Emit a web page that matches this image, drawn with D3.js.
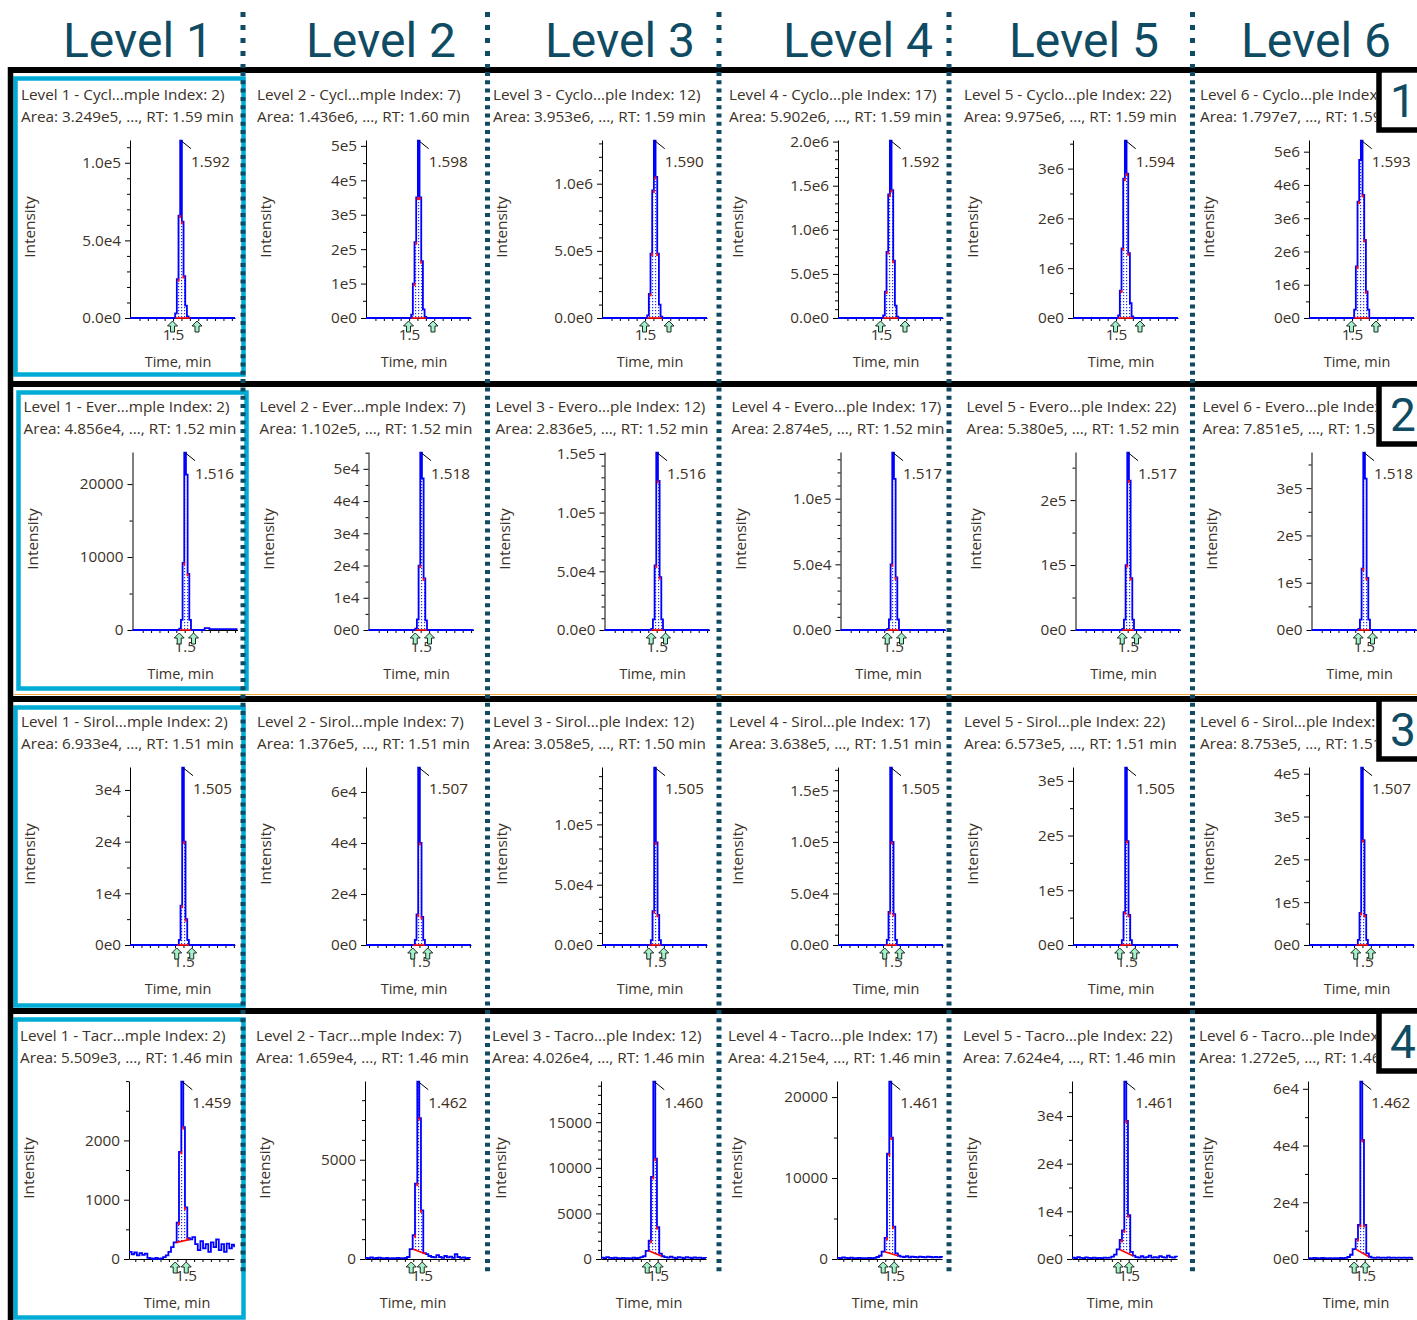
<!DOCTYPE html>
<html><head><meta charset="utf-8">
<script src="https://cdn.jsdelivr.net/npm/d3@7"></script>
<style>body{margin:0;background:#fff}svg{display:block}</style>
</head><body>
<svg id="chart" width="1417" height="1320"></svg>
<script>
// ================= DATA =================
const levelNames = ["Level 1", "Level 2", "Level 3", "Level 4", "Level 5", "Level 6"];
const rowNumbers = ["1", "2", "3", "4"];

const titleLines = [
  ["Level 1 - Cycl...mple Index: 2)", "Level 2 - Cycl...mple Index: 7)", "Level 3 - Cyclo...ple Index: 12)", "Level 4 - Cyclo...ple Index: 17)", "Level 5 - Cyclo...ple Index: 22)", "Level 6 - Cyclo...ple Index: 27)"],
  ["Level 1 - Ever...mple Index: 2)", "Level 2 - Ever...mple Index: 7)", "Level 3 - Evero...ple Index: 12)", "Level 4 - Evero...ple Index: 17)", "Level 5 - Evero...ple Index: 22)", "Level 6 - Evero...ple Index: 27)"],
  ["Level 1 - Sirol...mple Index: 2)", "Level 2 - Sirol...mple Index: 7)", "Level 3 - Sirol...ple Index: 12)", "Level 4 - Sirol...ple Index: 17)", "Level 5 - Sirol...ple Index: 22)", "Level 6 - Sirol...ple Index: 27)"],
  ["Level 1 - Tacr...mple Index: 2)", "Level 2 - Tacr...mple Index: 7)", "Level 3 - Tacro...ple Index: 12)", "Level 4 - Tacro...ple Index: 17)", "Level 5 - Tacro...ple Index: 22)", "Level 6 - Tacro...ple Index: 27)"]
];
const areaTexts = [
  ["3.249e5", "1.436e6", "3.953e6", "5.902e6", "9.975e6", "1.797e7"],
  ["4.856e4", "1.102e5", "2.836e5", "2.874e5", "5.380e5", "7.851e5"],
  ["6.933e4", "1.376e5", "3.058e5", "3.638e5", "6.573e5", "8.753e5"],
  ["5.509e3", "1.659e4", "4.026e4", "4.215e4", "7.624e4", "1.272e5"]
];
const rtTexts = [
  ["1.59", "1.60", "1.59", "1.59", "1.59", "1.59"],
  ["1.52", "1.52", "1.52", "1.52", "1.52", "1.52"],
  ["1.51", "1.51", "1.50", "1.51", "1.51", "1.51"],
  ["1.46", "1.46", "1.46", "1.46", "1.46", "1.46"]
];
const apexLabels = [
  ["1.592", "1.598", "1.590", "1.592", "1.594", "1.593"],
  ["1.516", "1.518", "1.516", "1.517", "1.517", "1.518"],
  ["1.505", "1.507", "1.505", "1.505", "1.505", "1.507"],
  ["1.459", "1.462", "1.460", "1.461", "1.461", "1.462"]
];
const yTickLabels = [
  [["0.0e0","5.0e4","1.0e5"], ["0e0","1e5","2e5","3e5","4e5","5e5"], ["0.0e0","5.0e5","1.0e6"], ["0.0e0","5.0e5","1.0e6","1.5e6","2.0e6"], ["0e0","1e6","2e6","3e6"], ["0e0","1e6","2e6","3e6","4e6","5e6"]],
  [["0","10000","20000"], ["0e0","1e4","2e4","3e4","4e4","5e4"], ["0.0e0","5.0e4","1.0e5","1.5e5"], ["0.0e0","5.0e4","1.0e5"], ["0e0","1e5","2e5"], ["0e0","1e5","2e5","3e5"]],
  [["0e0","1e4","2e4","3e4"], ["0e0","2e4","4e4","6e4"], ["0.0e0","5.0e4","1.0e5"], ["0.0e0","5.0e4","1.0e5","1.5e5"], ["0e0","1e5","2e5","3e5"], ["0e0","1e5","2e5","3e5","4e5"]],
  [["0","1000","2000"], ["0","5000"], ["0","5000","10000","15000"], ["0","10000","20000"], ["0e0","1e4","2e4","3e4"], ["0e0","2e4","4e4","6e4"]]
];
const xTickLabel = "1.5";
const timeWindows = [[1.09, 2.09], [1.003, 2.003], [0.991, 1.991], [0.96, 1.96]];
const peakWindows = [[1.52, 1.664], [1.448, 1.56], [1.44, 1.552], [1.414, 1.54]];
const arrowTimes = [[1.495, 1.728], [1.448, 1.584], [1.436, 1.579], [1.40, 1.505]];

// Cyclosporin (row 1)
const cycloTimes = [1.09, 1.52, 1.536, 1.552, 1.568, 1.584, 1.600, 1.616, 1.632, 1.648, 1.664, 2.09];
const cycloIntensity = [
  [0, 3e3, 2.5e4, 6.6e4, 1.142e5, 6.2e4, 2.7e4, 8e3, 1e3, 0, 0, 0],
  [0, 1e4, 1.0e5, 2.2e5, 3.5e5, 5.15e5, 3.5e5, 1.65e5, 2.5e4, 3e3, 0, 0],
  [0, 2e4, 1.8e5, 4.8e5, 9.5e5, 1.32e6, 1.05e6, 4.8e5, 1.0e5, 1e4, 0, 0],
  [0, 3e4, 3.0e5, 7.5e5, 1.4e6, 2.01e6, 1.45e6, 6.5e5, 1.4e5, 1.5e4, 0, 0],
  [0, 5e4, 5.5e5, 1.4e6, 2.8e6, 3.56e6, 2.9e6, 1.3e6, 3e5, 3e4, 0, 0],
  [0, 2.5e5, 1.55e6, 3.5e6, 4.75e6, 5.33e6, 3.7e6, 2.35e6, 8e5, 2.5e5, 0, 0]
];
// Everolimus (row 2)
const everoTimes = [1.003, 1.448, 1.464, 1.480, 1.496, 1.512, 1.528, 1.544, 1.560, 1.690, 1.735, 2.003];
const everoIntensity = [
  [0, 200, 1400, 9200, 2.43e4, 2.13e4, 7700, 1400, 0, 250, 120, 120],
  [0, 400, 3300, 2.0e4, 5.5e4, 4.7e4, 1.6e4, 3000, 0, 0, 0, 0],
  [0, 1000, 9000, 5.5e4, 1.51e5, 1.27e5, 4.5e4, 9000, 0, 0, 0, 0],
  [0, 900, 8000, 5.0e4, 1.35e5, 1.15e5, 4.0e4, 8000, 0, 0, 0, 0],
  [0, 1800, 1.6e4, 1.0e5, 2.73e5, 2.3e5, 8.0e4, 1.6e4, 0, 0, 0, 0],
  [0, 2500, 2.2e4, 1.3e5, 3.75e5, 3.2e5, 1.1e5, 2.2e4, 0, 0, 0, 0]
];
// Sirolimus (row 3)
const siroTimes = [0.991, 1.440, 1.456, 1.472, 1.488, 1.504, 1.520, 1.536, 1.552, 1.991];
const siroIntensity = [
  [0, 0, 1000, 7600, 3.43e4, 2.0e4, 5000, 1000, 0, 0],
  [0, 0, 2000, 1.2e4, 6.95e4, 4.0e4, 1.1e4, 2000, 0, 0],
  [0, 0, 4000, 2.8e4, 1.47e5, 8.5e4, 2.5e4, 4000, 0, 0],
  [0, 0, 5000, 3.2e4, 1.72e5, 1.0e5, 3.0e4, 5000, 0, 0],
  [0, 0, 9000, 6.0e4, 3.24e5, 1.9e5, 5.5e4, 9000, 0, 0],
  [0, 0, 1.2e4, 7.5e4, 4.14e5, 2.45e5, 7.0e4, 1.2e4, 0, 0]
];
// Tacrolimus (row 4)
const tacroTimes = [0.96, 0.985, 1.01, 1.035, 1.06, 1.085, 1.11, 1.135, 1.16, 1.185,
  1.21, 1.235, 1.26, 1.285, 1.31, 1.335, 1.36, 1.385, 1.414, 1.436,
  1.458, 1.477, 1.493, 1.515, 1.54, 1.563, 1.59, 1.615, 1.64, 1.665,
  1.69, 1.715, 1.74, 1.765, 1.79, 1.815, 1.84, 1.865, 1.89, 1.915,
  1.94, 1.96];
const tacroIntensity = [
  [120, 80, 110, 60, 100, 70, 90, 20, 10, 0,
   20, 0, 10, 30, 60, 120, 200, 280, 615, 1808,
   2990, 2225, 870, 350, 330, 370, 250, 150, 300, 180,
   250, 120, 280, 200, 330, 150, 250, 120, 260, 180,
   240, 200],
  [60, 40, 80, 30, 50, 70, 40, 30, 50, 20,
   40, 30, 60, 40, 30, 50, 100, 500, 1200, 3800,
   8930, 7100, 2450, 300, 250, 150, 100, 80, 200, 100,
   60, 150, 80, 120, 60, 250, 100, 60, 80, 40,
   60, 50],
  [150, 100, 200, 120, 80, 150, 100, 60, 120, 80,
   100, 60, 150, 100, 120, 200, 300, 900, 2000, 9000,
   19440, 11000, 3500, 600, 300, 200, 150, 250, 150, 100,
   200, 150, 100, 200, 150, 100, 180, 120, 150, 100,
   120, 100],
  [150, 120, 200, 150, 100, 180, 120, 100, 150, 100,
   120, 100, 150, 120, 150, 250, 400, 900, 2600, 13000,
   21900, 15000, 4000, 700, 400, 300, 250, 350, 200, 300,
   250, 200, 300, 250, 200, 300, 250, 200, 250, 200,
   250, 200],
  [300, 200, 400, 250, 200, 350, 250, 200, 300, 200,
   250, 200, 300, 250, 300, 500, 900, 2000, 4000, 6000,
   37200, 29000, 9200, 1500, 700, 400, 300, 600, 300, 400,
   700, 300, 400, 300, 600, 400, 300, 700, 400, 300,
   500, 400],
  [300, 200, 400, 300, 250, 350, 300, 200, 300, 250,
   300, 200, 350, 300, 400, 700, 1500, 3500, 7000, 12000,
   62500, 42000, 12000, 2000, 800, 500, 400, 600, 400, 500,
   400, 600, 400, 500, 400, 500, 400, 500, 400, 500,
   400, 400]
];
const seriesTimes = [cycloTimes, everoTimes, siroTimes, tacroTimes];
const seriesIntensity = [cycloIntensity, everoIntensity, siroIntensity, tacroIntensity];

// ================= LAYOUT =================
const W = 1417, H = 1320;
const TEAL = "#0f4c63";
const CYAN = "#00acd6";
const FONT = "'Open Sans','Noto Sans',sans-serif";
const TXT = "#3a3128";
const colX = [14, 250, 486, 722, 957, 1193];
const rowShift = [0, 2.5, 0, -1];
const rowTop = [70, 382, 697, 1011];
const blackLineY = [70, 384, 699, 1011];
const sepX = [243, 487.5, 719, 949, 1192.5];
const headerX = [138, 381, 620, 858, 1084, 1316];
const AXIS_OFF = 116, PLOT_W = 105;
const TITLE_FS = 15.3, TICK_FS = 15.3, LABEL_FS = 14.5;
const BOX_X = 1379;

const svg = d3.select("#chart");
svg.append("rect").attr("width", W).attr("height", H).attr("fill", "#fff");

const defs = svg.append("defs");
const pat = defs.append("pattern").attr("id", "dots").attr("patternUnits", "userSpaceOnUse")
  .attr("width", 3).attr("height", 3);
pat.append("rect").attr("width", 3).attr("height", 3).attr("fill", "#fff");
pat.append("rect").attr("x", 1).attr("y", 1).attr("width", 1.2).attr("height", 1.2).attr("fill", "#1f2fff");
// titles of the last column are cut where the row-number box begins
defs.append("clipPath").attr("id", "titleClip").append("rect")
  .attr("x", 0).attr("y", 0).attr("width", BOX_X - 3).attr("height", H);

// thin orange line between rows 2 and 3
svg.append("line").attr("x1", 14).attr("x2", W).attr("y1", 694.5).attr("y2", 694.5)
  .attr("stroke", "#f0a43c").attr("stroke-width", 1.2);

function minorStep(step) {
  const p = Math.pow(10, Math.floor(Math.log10(step)));
  const lead = Math.round(step / p);
  return lead === 5 ? step / 5 : step / 2;
}

function drawPanel(r, c) {
  const times = seriesTimes[r], vals = seriesIntensity[r][c];
  const x0 = colX[c] + rowShift[r];
  const axisX = x0 + AXIS_OFF;
  const top = rowTop[r] + 70, base = rowTop[r] + 248;
  const g = svg.append("g").attr("font-family", FONT);

  // titles
  const tg = g.append("g").attr("clip-path", "url(#titleClip)");
  const l1 = titleLines[r][c];
  const l2 = `Area: ${areaTexts[r][c]}, ..., RT: ${rtTexts[r][c]} min`;
  tg.append("text").attr("x", x0 + 7).attr("y", rowTop[r] + 30).attr("font-size", TITLE_FS)
    .attr("fill", TXT).text(l1);
  tg.append("text").attr("x", x0 + 7).attr("y", rowTop[r] + 51.5).attr("font-size", TITLE_FS)
    .attr("fill", TXT).text(l2);

  const x = d3.scaleLinear().domain(timeWindows[r]).range([axisX, axisX + PLOT_W]);
  const vmax = d3.max(vals);
  const y = d3.scaleLinear().domain([0, vmax * 1.004]).range([base, top]);

  // y axis
  const labels = yTickLabels[r][c];
  const tickVals = labels.map(Number);
  const mstep = minorStep(tickVals[1] - tickVals[0]);
  const minor = d3.range(0, vmax * 1.004, mstep).filter(v => !tickVals.some(t => Math.abs(t - v) < mstep * 0.01));
  const yMinor = g.append("g").attr("transform", `translate(${axisX},0)`)
    .call(d3.axisLeft(y).tickValues(minor).tickSize(3).tickSizeOuter(0).tickFormat(""));
  yMinor.select(".domain").remove();
  const yAx = g.append("g").attr("transform", `translate(${axisX},0)`)
    .call(d3.axisLeft(y).tickValues(tickVals).tickSize(5).tickSizeOuter(0).tickPadding(4)
      .tickFormat((d, i) => labels[i]));
  yAx.selectAll("text").attr("font-size", TICK_FS).attr("fill", TXT).attr("font-family", FONT);
  g.selectAll(".tick line").attr("stroke", "#000");
  yAx.select(".domain").attr("stroke", "#000");

  // x axis
  const [t0, t1] = timeWindows[r];
  const xt = [];
  for (let k = -12; k <= 12; k++) { const v = 1.5 + k * 0.08; if (v > t0 + 0.02 && v < t1) xt.push(v); }
  const xAx = g.append("g").attr("transform", `translate(0,${base})`)
    .call(d3.axisBottom(x).tickValues(xt).tickSize(3).tickSizeOuter(0).tickPadding(8)
      .tickFormat(d => Math.abs(d - 1.5) < 1e-9 ? xTickLabel : ""));
  xAx.selectAll("text").attr("font-size", TICK_FS).attr("fill", TXT).attr("font-family", FONT);
  xAx.selectAll(".tick line").attr("stroke", "#000");
  xAx.select(".domain").attr("stroke", "#000");

  // axis titles
  g.append("text").attr("x", axisX + 48).attr("y", rowTop[r] + 297).attr("text-anchor", "middle")
    .attr("font-size", LABEL_FS).attr("fill", TXT).text("Time, min");
  g.append("text").attr("transform", `translate(${x0 + 21},${rowTop[r] + 157}) rotate(-90)`)
    .attr("text-anchor", "middle").attr("font-size", TICK_FS).attr("fill", TXT).text("Intensity");

  // peak fill
  const pts = times.map((t, i) => ({ t, v: vals[i], i }));
  const [ws, we] = peakWindows[r];
  const iS = times.findIndex(t => t >= ws - 1e-9);
  const iE = times.findIndex(t => t >= we - 1e-9);
  const bS = iS > 0 ? vals[iS - 1] : 0, bE = vals[iE];
  const baseAt = t => bS + (bE - bS) * (t - times[iS]) / (times[iE] - times[iS]);
  const peakPts = pts.slice(iS, iE + 1);
  const area = d3.area().x(d => x(d.t)).y1(d => y(Math.max(d.v, baseAt(d.t)))).y0(d => y(baseAt(d.t)))
    .curve(d3.curveStepAfter);
  g.append("path").datum(peakPts).attr("d", area).attr("fill", "url(#dots)");

  // trace
  const line = d3.line().x(d => x(d.t)).y(d => y(d.v)).curve(d3.curveStepAfter);
  g.append("path").datum(pts).attr("d", line).attr("fill", "none")
    .attr("stroke", "#0000ff").attr("stroke-width", 1.8);

  // red integration baseline
  g.append("line").attr("x1", x(times[iS])).attr("x2", x(times[iE]))
    .attr("y1", y(bS)).attr("y2", y(bE)).attr("stroke", "#ff0000").attr("stroke-width", 1.6);

  // red point marks on the peak flanks
  const iMax = vals.indexOf(vmax);
  for (let i = iS; i < iE; i++) {
    const v = vals[i];
    if (i === iMax || v < vmax * 0.1 || v > vmax * 0.85) continue;
    const px = i < iMax ? x(times[i + 1]) : x(times[i]);
    g.append("rect").attr("x", px - 1).attr("y", y(v) - 0.5).attr("width", 2).attr("height", 3)
      .attr("fill", "#ff1010");
  }

  // arrows at integration limits
  arrowTimes[r].forEach(t => {
    const cx = x(t), ty = base + 3;
    const p = `M${cx},${ty} L${cx + 5},${ty + 5} L${cx + 2},${ty + 5} L${cx + 2},${ty + 11} L${cx - 2},${ty + 11} L${cx - 2},${ty + 5} L${cx - 5},${ty + 5} Z`;
    g.append("path").attr("d", p).attr("fill", "#a4f0c8").attr("stroke", "#1c2a22").attr("stroke-width", 1);
  });

  // apex annotation
  const ax = (x(times[iMax]) + x(times[iMax + 1])) / 2, ay = y(vmax);
  g.append("line").attr("x1", ax).attr("y1", ay).attr("x2", ax + 10).attr("y2", ay + 8)
    .attr("stroke", "#000").attr("stroke-width", 1);
  g.append("text").attr("x", ax + 10).attr("y", ay + 26).attr("font-size", TICK_FS)
    .attr("fill", "#3d2c16").text(apexLabels[r][c]);
}

for (let r = 0; r < 4; r++) for (let c = 0; c < 6; c++) drawPanel(r, c);

// cyan highlight boxes (Level 1 column)
[0, 1, 2, 3].forEach(r => {
  svg.append("rect").attr("x", 15.5 + (r === 1 ? 3 : 0)).attr("y", blackLineY[r] + 8.5)
    .attr("width", 228).attr("height", r < 2 ? 296 : 298)
    .attr("fill", "none").attr("stroke", CYAN).attr("stroke-width", 4.5);
});

// black frame lines
blackLineY.forEach(yy => svg.append("line").attr("x1", 8).attr("x2", W).attr("y1", yy).attr("y2", yy)
  .attr("stroke", "#000").attr("stroke-width", 6));
svg.append("line").attr("x1", 10.5).attr("x2", 10.5).attr("y1", 67).attr("y2", H)
  .attr("stroke", "#000").attr("stroke-width", 5.5);

// row number boxes
rowNumbers.forEach((n, r) => {
  svg.append("rect").attr("x", BOX_X).attr("y", blackLineY[r]).attr("width", 60).attr("height", 60)
    .attr("fill", "#fff").attr("stroke", "#000").attr("stroke-width", 5.5);
  svg.append("text").attr("x", 1403).attr("y", blackLineY[r] + 47).attr("text-anchor", "middle")
    .attr("font-family", "Roboto, 'Liberation Sans', sans-serif").attr("font-size", 46)
    .attr("fill", TEAL).text(n);
});

// dotted column separators
sepX.forEach(sx => {
  svg.append("line").attr("x1", sx).attr("x2", sx).attr("y1", 12).attr("y2", 68)
    .attr("stroke", TEAL).attr("stroke-width", 5).attr("stroke-dasharray", "5,8");
  svg.append("line").attr("x1", sx).attr("x2", sx).attr("y1", 72).attr("y2", 1275)
    .attr("stroke", TEAL).attr("stroke-width", 5).attr("stroke-dasharray", "4,4.3");
});

// column headers
levelNames.forEach((t, i) => {
  svg.append("text").attr("x", headerX[i]).attr("y", 57).attr("text-anchor", "middle")
    .attr("font-family", "Roboto, 'Liberation Sans', sans-serif").attr("font-size", 48)
    .attr("fill", TEAL).text(t);
});
</script>
</body></html>
